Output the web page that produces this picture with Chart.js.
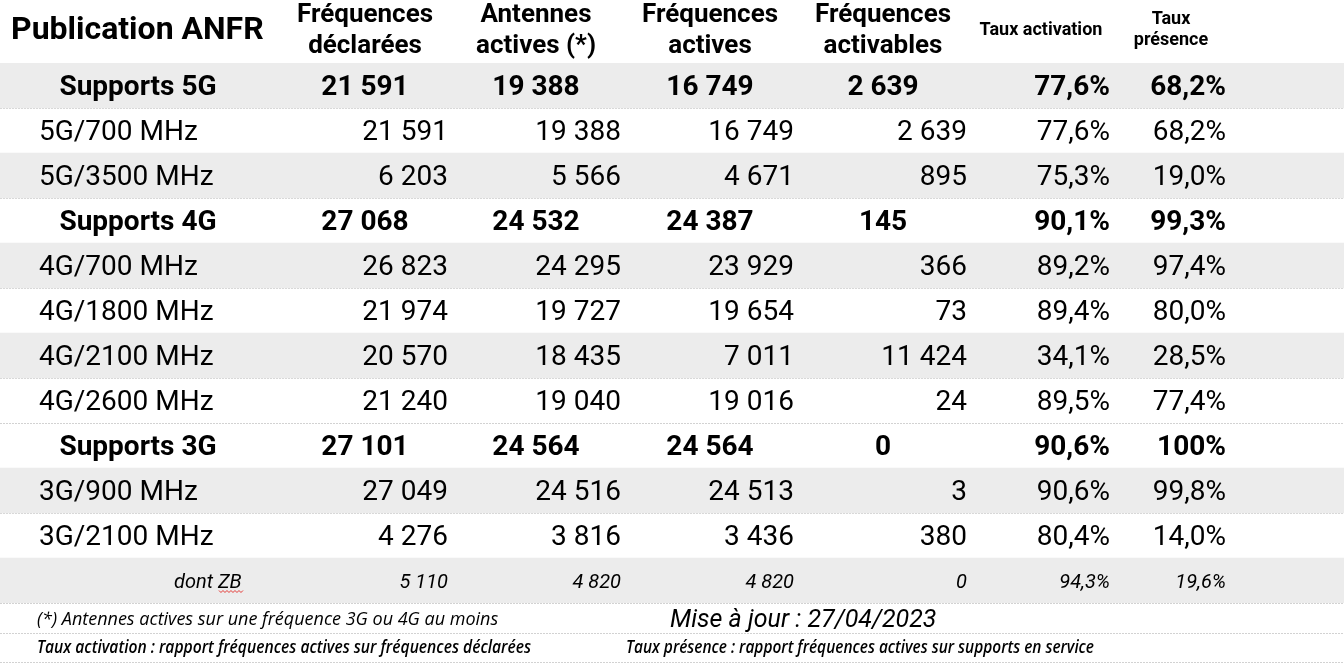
<!DOCTYPE html>
<html lang="fr">
<head>
<meta charset="utf-8">
<title>Publication ANFR</title>
<script src="https://cdn.jsdelivr.net/npm/chart.js@4/dist/chart.umd.min.js"></script>
<style>
    html, body { margin: 0; padding: 0; background: #fff; }
    .anfr-wrapper { position: relative; width: 1344px; height: 668px; }
</style>
</head>
<body>
<div class="anfr-wrapper">
    <canvas id="anfr-table"></canvas>
</div>

<script>(function() { "use strict";

    // Rows of the table, top to bottom
    var row_labels = ['Supports 5G', '5G/700 MHz', '5G/3500 MHz', 'Supports 4G', '4G/700 MHz', '4G/1800 MHz',
        '4G/2100 MHz', '4G/2600 MHz', 'Supports 3G', '3G/900 MHz', '3G/2100 MHz', 'dont ZB'];

    var freq_declarees  = [21591, 21591, 6203, 27068, 26823, 21974, 20570, 21240, 27101, 27049, 4276, 5110];
    var antennes_actives = [19388, 19388, 5566, 24532, 24295, 19727, 18435, 19040, 24564, 24516, 3816, 4820];
    var freq_actives    = [16749, 16749, 4671, 24387, 23929, 19654, 7011, 19016, 24564, 24513, 3436, 4820];
    var freq_activables = [2639, 2639, 895, 145, 366, 73, 11424, 24, 0, 3, 380, 0];
    var taux_activation = [77.6, 77.6, 75.3, 90.1, 89.2, 89.4, 34.1, 89.5, 90.6, 90.6, 80.4, 94.3];
    var taux_presence   = [68.2, 68.2, 19.0, 99.3, 97.4, 80.0, 28.5, 77.4, 100, 99.8, 14.0, 19.6];

    // Header and notes
    var table_title = 'Publication ANFR';
    var column_titles = [['Fréquences', 'déclarées'], ['Antennes', 'actives (*)'], ['Fréquences', 'actives'],
        ['Fréquences', 'activables'], ['Taux activation'], ['Taux', 'présence']];
    var note_antennes = '(*) Antennes actives sur une fréquence 3G ou 4G au moins';
    var note_update = 'Mise à jour : 27/04/2023';
    var note_activation = 'Taux activation : rapport fréquences actives sur fréquences déclarées';
    var note_presence = 'Taux présence : rapport fréquences actives sur supports en service';

    // Layout (x values are in units of the hidden x scale)
    var X_MIN = 0, X_MAX = 1344;
    var HEADER_H = 63, FOOTER_H = 65, FOOTER_ROW_H = 30;
    var shaded_rows = [0, 2, 4, 6, 9, 11];
    var col_center = [365, 536, 710, 883, 1041, 1171];
    var col_right = [448, 621, 794, 967, 1110, 1226];
    var LABEL_LEFT = 39, TOTAL_CENTER = 138, ZB_LEFT = 174;
    var FONT = 'Roboto, "DejaVu Sans", sans-serif';
    var NOTE_FONT = '"Open Sans", "DejaVu Sans", sans-serif';
    var LINE_COLOR = '#d2d2d2';

    var columns = [
        {values: freq_declarees, pct: false},
        {values: antennes_actives, pct: false},
        {values: freq_actives, pct: false},
        {values: freq_activables, pct: false},
        {values: taux_activation, pct: true},
        {values: taux_presence, pct: true}
    ];

    function fmtInt(n) {
        return String(n).replace(/\B(?=(\d{3})+(?!\d))/g, ' ');
    }
    function fmtPct(v) {
        return v === 100 ? '100%' : v.toFixed(1).replace('.', ',') + '%';
    }

    // draw text with its capitals centred on yc
    function cellText(ctx, str, x, yc, font, size, align) {
        ctx.font = font;
        ctx.textAlign = align;
        ctx.textBaseline = 'alphabetic';
        ctx.fillText(str, x, yc + size * 0.711 / 2);
    }

    function dottedLine(ctx, x0, x1, y) {
        ctx.save();
        ctx.strokeStyle = LINE_COLOR;
        ctx.lineWidth = 1;
        ctx.setLineDash([2, 1]);
        ctx.beginPath();
        ctx.moveTo(x0, Math.round(y) + 0.5);
        ctx.lineTo(x1, Math.round(y) + 0.5);
        ctx.stroke();
        ctx.restore();
    }

    var cellsPlugin = {
        id: 'anfrCells',
        afterDraw: function(chart) {
            var ctx = chart.ctx, xs = chart.scales.x, ys = chart.scales.y, area = chart.chartArea;
            ctx.save();
            ctx.fillStyle = '#000';

            // header
            ctx.font = 'bold 32px ' + FONT;
            ctx.textAlign = 'left';
            ctx.textBaseline = 'alphabetic';
            ctx.fillText(table_title, xs.getPixelForValue(11), 39);
            column_titles.forEach(function(lines, c) {
                var small = c >= 4;
                ctx.font = 'bold ' + (small ? 18 : 26) + 'px ' + FONT;
                ctx.textAlign = 'center';
                var base;
                if (small) {
                    base = lines.length === 1 ? [35] : [24, 45];
                } else {
                    base = [22, 53];
                }
                lines.forEach(function(line, k) {
                    ctx.fillText(line, xs.getPixelForValue(col_center[c]), base[k]);
                });
            });

            // body
            row_labels.forEach(function(label, i) {
                var yc = ys.getPixelForValue(i);
                var total = label.indexOf('Supports') === 0;
                var zb = label.indexOf('dont') === 0;

                if (total) {
                    cellText(ctx, label, xs.getPixelForValue(TOTAL_CENTER), yc, 'bold 28px ' + FONT, 28, 'center');
                } else if (zb) {
                    cellText(ctx, label, xs.getPixelForValue(ZB_LEFT), yc, 'italic 20px ' + FONT, 20, 'left');
                    // spell-check squiggle under "ZB"
                    ctx.font = 'italic 20px ' + FONT;
                    var sx = xs.getPixelForValue(ZB_LEFT) + ctx.measureText('dont ').width + 1;
                    var sw = ctx.measureText('ZB').width + 2;
                    var sy = yc + 10;
                    ctx.save();
                    ctx.strokeStyle = '#e53935';
                    ctx.lineWidth = 1;
                    ctx.beginPath();
                    for (var px = 0; px <= sw; px += 2) {
                        var py = sy + ((px / 2) % 2 === 0 ? 0 : 2);
                        if (px === 0) ctx.moveTo(sx + px, py); else ctx.lineTo(sx + px, py);
                    }
                    ctx.stroke();
                    ctx.restore();
                    ctx.fillStyle = '#000';
                } else {
                    cellText(ctx, label, xs.getPixelForValue(LABEL_LEFT), yc, '28px ' + FONT, 28, 'left');
                }

                columns.forEach(function(col, c) {
                    var v = col.values[i];
                    var str = col.pct ? fmtPct(v) : fmtInt(v);
                    if (total && !col.pct) {
                        cellText(ctx, str, xs.getPixelForValue(col_center[c]), yc, 'bold 28px ' + FONT, 28, 'center');
                    } else if (total) {
                        cellText(ctx, str, xs.getPixelForValue(col_right[c]), yc, 'bold 28px ' + FONT, 28, 'right');
                    } else if (zb) {
                        cellText(ctx, str, xs.getPixelForValue(col_right[c]), yc, 'italic 20px ' + FONT, 20, 'right');
                    } else {
                        cellText(ctx, str, xs.getPixelForValue(col_right[c]), yc, '28px ' + FONT, 28, 'right');
                    }
                });
            });

            // notes under the table
            var f1 = area.bottom + FOOTER_ROW_H, f2 = f1 + FOOTER_ROW_H - 1;
            dottedLine(ctx, area.left, area.right, f1);
            dottedLine(ctx, area.left, area.right, f2);

            ctx.textAlign = 'left';
            ctx.font = 'italic 18px ' + NOTE_FONT;
            ctx.fillText(note_antennes, xs.getPixelForValue(37), area.bottom + 22, 468);
            ctx.font = 'italic 25px ' + FONT;
            ctx.fillText(note_update, xs.getPixelForValue(670), area.bottom + 24, 274);
            ctx.font = 'italic 600 18px ' + NOTE_FONT;
            ctx.fillText(note_activation, xs.getPixelForValue(37), f1 + 20, 494);
            ctx.fillText(note_presence, xs.getPixelForValue(626), f1 + 20, 468);

            ctx.restore();
        }
    };

    var shade_data = row_labels.map(function(label, i) {
        return shaded_rows.indexOf(i) >= 0 ? [X_MIN, X_MAX] : null;
    });

    var anfr_chart = new Chart(document.getElementById('anfr-table').getContext('2d'), {
        type: 'bar',
        data: {
            labels: row_labels,
            datasets: [{
                data: shade_data,
                backgroundColor: '#ececec',
                borderWidth: 0,
                borderSkipped: false,
                barPercentage: 1,
                categoryPercentage: 1
            }]
        },
        options: {
            indexAxis: 'y',
            responsive: true,
            maintainAspectRatio: false,
            animation: false,
            events: [],
            layout: {
                padding: {top: HEADER_H, bottom: FOOTER_H, left: 0, right: 0}
            },
            plugins: {
                legend: {display: false},
                tooltip: {enabled: false}
            },
            scales: {
                x: {
                    type: 'linear',
                    display: false,
                    min: X_MIN,
                    max: X_MAX
                },
                y: {
                    type: 'category',
                    offset: true,
                    z: 1,
                    ticks: {display: false},
                    grid: {offset: true, color: LINE_COLOR, lineWidth: 1, drawTicks: false},
                    border: {display: false, dash: [2, 1]},
                    afterFit: function(scale) { scale.width = 0; }
                }
            }
        },
        plugins: [cellsPlugin]
    });

})();</script>
</body>
</html>
